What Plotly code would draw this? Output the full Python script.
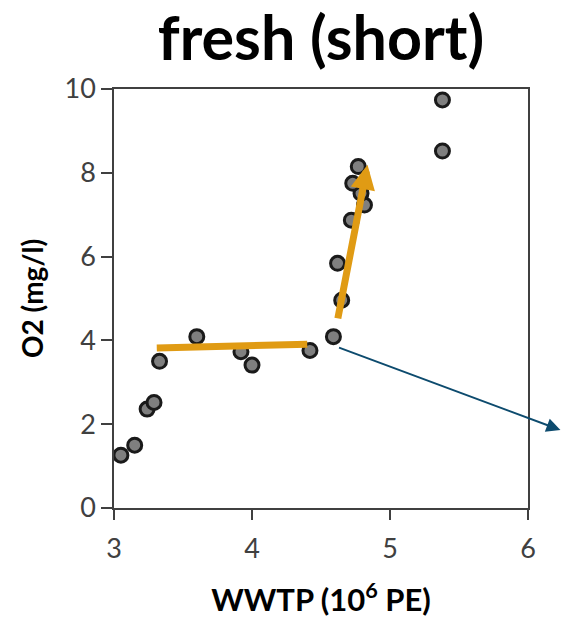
import plotly.graph_objects as go

# ---- data ----
wwtp = [3.05, 3.15, 3.24, 3.29, 3.33, 3.60, 3.92, 4.00, 4.42, 4.59,
        4.65, 4.62, 4.72, 4.815, 4.79, 4.73, 4.77, 5.38, 5.38]
o2 = [1.26, 1.50, 2.36, 2.52, 3.50, 4.09, 3.73, 3.41, 3.76, 4.09,
      4.96, 5.84, 6.87, 7.23, 7.51, 7.75, 8.15, 9.74, 8.52]

x_ticks = [3, 4, 5, 6]
y_ticks = [0, 2, 4, 6, 8, 10]

# trend marks (data coordinates): plateau line, steep arrow, pointer arrow
plateau_x = [3.31, 4.40]
plateau_y = [3.82, 3.91]
steep_x = [4.62, 4.837]
steep_y = [4.49, 8.19]
pointer_x = [4.62, 6.235]
pointer_y = [3.84, 1.86]

ORANGE = "#E09B14"
BLUE = "#0D4B6E"
AXIS = "#404040"
FONT = "Lato"

fig = go.Figure()
fig.add_trace(go.Scatter(
    x=wwtp, y=o2, mode="markers",
    marker=dict(size=14, color="#7F7F7F", line=dict(color="#1A1A1A", width=3)),
    showlegend=False, hoverinfo="skip"))

fig.add_shape(type="line", xref="x", yref="y",
              x0=plateau_x[0], y0=plateau_y[0], x1=plateau_x[1], y1=plateau_y[1],
              line=dict(color=ORANGE, width=7), layer="above")

fig.add_annotation(x=steep_x[1], y=steep_y[1], ax=steep_x[0], ay=steep_y[0],
                   xref="x", yref="y", axref="x", ayref="y", text="",
                   showarrow=True, arrowhead=2, arrowwidth=7, arrowsize=0.7,
                   arrowcolor=ORANGE)

fig.add_annotation(x=pointer_x[1], y=pointer_y[1], ax=pointer_x[0], ay=pointer_y[0],
                   xref="x", yref="y", axref="x", ayref="y", text="",
                   showarrow=True, arrowhead=2, arrowwidth=2, arrowsize=1.4,
                   arrowcolor=BLUE)

fig.update_layout(
    width=561, height=624,
    margin=dict(l=114, r=33, t=89, b=116, pad=0),
    paper_bgcolor="white", plot_bgcolor="white",
    title=dict(text="<b>fresh (short)</b>", x=0.5, xref="paper", xanchor="center",
               y=1 - 39 / 624, yref="container", yanchor="middle",
               font=dict(family=FONT, size=61, color="black")),
    font=dict(family=FONT, color=AXIS),
)

fig.update_xaxes(range=[3, 6], tickvals=x_ticks, ticks="outside", ticklen=10,
                 tickwidth=1.5, tickcolor=AXIS, showline=True, linecolor=AXIS,
                 linewidth=1.5, mirror=True, showgrid=False, zeroline=False,
                 ticklabelstandoff=6,
                 tickfont=dict(family=FONT, size=27, color=AXIS),
                 title=dict(text="<b>WWTP (10<sup>6</sup> PE)</b>", standoff=26,
                            font=dict(family=FONT, size=31, color="black")))
fig.update_yaxes(range=[0, 10], tickvals=y_ticks, ticks="outside", ticklen=11,
                 tickwidth=1.5, tickcolor=AXIS, showline=True, linecolor=AXIS,
                 linewidth=1.5, mirror=True, showgrid=False, zeroline=False,
                 tickfont=dict(family=FONT, size=27, color=AXIS),
                 title=dict(text="<b>O2 (mg/l)</b>", standoff=13,
                            font=dict(family=FONT, size=28, color="black")))

fig.write_html("out.html")
